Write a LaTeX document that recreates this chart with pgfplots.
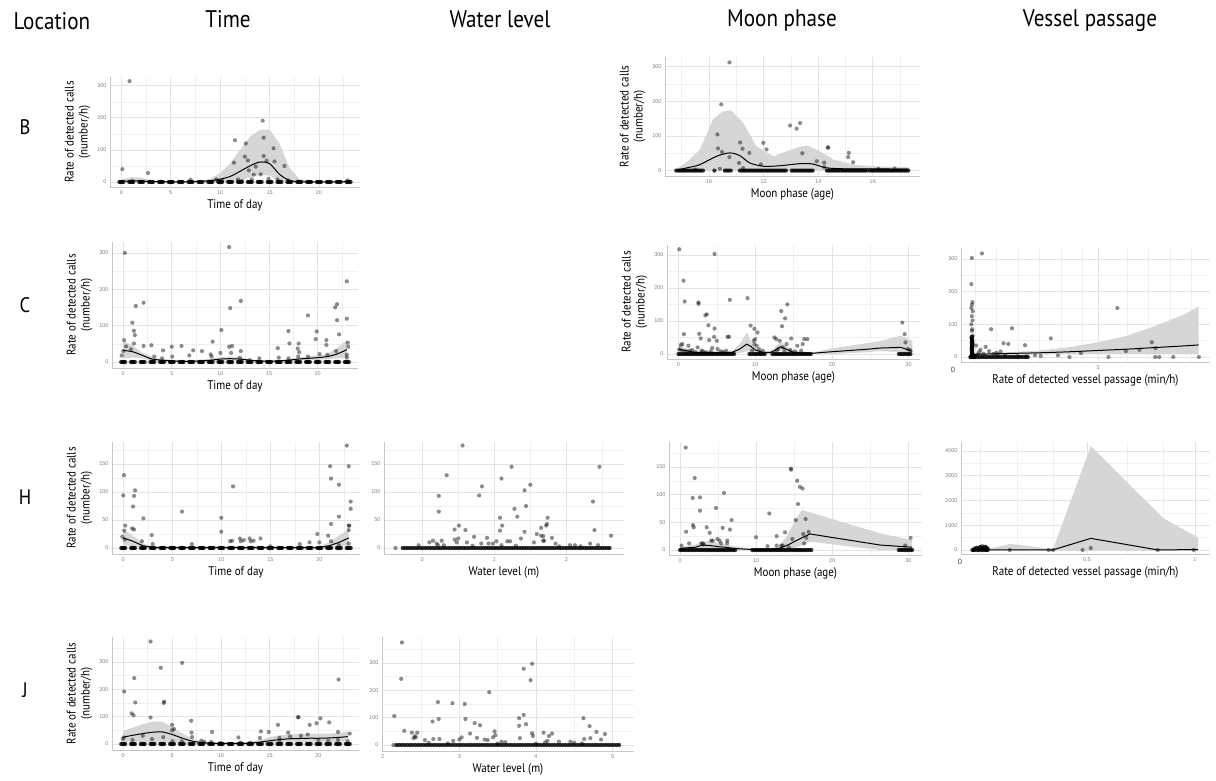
\documentclass[border=0pt]{standalone}
\usepackage{pgfplots}
\pgfplotsset{compat=1.18}
\usepackage{fontspec}
\setmainfont{PT Sans}[FakeStretch=0.88]
\newfontfamily\tickfont{Liberation Sans}
\pgfplotstableread[row sep=\\]{x y\\
-0.2 0\\-0.07 0\\0.07 0\\0.2 0\\
0.8 0\\0.93 0\\1.07 0\\1.2 0\\
1.8 0\\1.93 0\\2.07 0\\2.2 0\\
2.8 0\\2.93 0\\3.07 0\\3.2 0\\
3.8 0\\3.93 0\\4.07 0\\4.2 0\\
4.8 0\\4.93 0\\5.07 0\\5.2 0\\
5.8 0\\5.93 0\\6.07 0\\6.2 0\\
6.8 0\\6.93 0\\7.07 0\\7.2 0\\
7.8 0\\7.93 0\\8.07 0\\8.2 0\\
8.8 0\\8.93 0\\9.07 0\\9.2 0\\
9.8 0\\9.93 0\\10.07 0\\10.2 0\\
10.8 0\\10.93 0\\11.07 0\\11.2 0\\
11.8 0\\11.93 0\\12.07 0\\12.2 0\\
12.8 0\\12.93 0\\13.07 0\\13.2 0\\
13.8 0\\13.93 0\\14.07 0\\14.2 0\\
14.8 0\\14.93 0\\15.07 0\\15.2 0\\
15.8 0\\15.93 0\\16.07 0\\16.2 0\\
16.8 0\\16.93 0\\17.07 0\\17.2 0\\
17.8 0\\17.93 0\\18.07 0\\18.2 0\\
18.8 0\\18.93 0\\19.07 0\\19.2 0\\
19.8 0\\19.93 0\\20.07 0\\20.2 0\\
20.8 0\\20.93 0\\21.07 0\\21.2 0\\
21.8 0\\21.93 0\\22.07 0\\22.2 0\\
22.8 0\\22.93 0\\23.07 0\\23.2 0\\
}\hourzeros
\begin{document}
\begin{tikzpicture}
\pgfplotsset{
 panel/.style={scale only axis, anchor=south west,
   axis x line*=bottom, axis y line*=left,
   axis line style={black!22, line width=0.8pt, -},
   grid=both, major grid style={black!11, line width=0.6pt},
   minor grid style={black!6, line width=0.4pt},
   tick style={draw=none}, major tick length=0pt, minor tick length=0pt,
   ticklabel style={font=\tickfont\fontsize{5.5}{6}\selectfont, text=black!50},
   /pgf/number format/assume math mode=true,
   xlabel style={font=\fontsize{12.5}{14}\selectfont, yshift=2pt},
   ylabel style={font=\fontsize{12.5}{14}\selectfont, align=center},
 },
 ylab/.style={ylabel={Rate of detected calls\\(number/h)}},
 pts/.style={only marks, mark=*, mark size=2.1pt, mark options={draw opacity=0, fill=black, fill opacity=0.45}},
 zpts/.style={only marks, mark=*, mark size=2.1pt, mark options={draw opacity=0, fill=black, fill opacity=0.8}},
 rib/.style={draw=none, fill=black!16},
 fit/.style={black, line width=1pt},
}
\path[use as bounding box] (0pt,0pt) rectangle (1216pt,780pt);
% headers
\node[anchor=west, font=\fontsize{24}{28}\selectfont] at (10pt,759pt) {Location};
\node[font=\fontsize{24}{28}\selectfont] at (228pt,761pt) {Time};
\node[font=\fontsize{24}{28}\selectfont] at (500pt,761pt) {Water level};
\node[font=\fontsize{24}{28}\selectfont] at (782pt,759pt) {Moon phase};
\node[font=\fontsize{24}{28}\selectfont] at (1090pt,759pt) {Vessel passage};
\node[font=\fontsize{21}{24}\selectfont] at (25pt,653pt) {B};
\node[font=\fontsize{21}{24}\selectfont] at (25pt,475pt) {C};
\node[font=\fontsize{21}{24}\selectfont] at (25pt,283pt) {H};
\node[font=\fontsize{21}{24}\selectfont] at (25pt,90pt) {J};
\node[font=\tickfont\fontsize{7.5}{8}\selectfont, text=black!75] at (953pt,410pt) {0};
\node[font=\tickfont\fontsize{7.5}{8}\selectfont, text=black!75] at (960pt,218pt) {0};

% ---------------- B time
\begin{axis}[panel, ylab, at={(110pt,593pt)}, width=250pt, height=110pt,
 xmin=-1.15, xmax=24.15, ymin=-15.6, ymax=327,
 xtick={0,5,10,15,20}, minor xtick={2.5,7.5,12.5,17.5,22.5},
 ytick={0,100,200,300}, minor ytick={50,150,250}, xlabel={Time of day}]
\addplot[rib] coordinates {(0,8)(1,15)(2,14)(3,5)(4,2)(5,1)(6,1)(7,2)(8,3)(9,10)(10,28)(11,58)(12,100)(13,140)(14,162)(15,163)(16,120)(17,45)(18,10)(19,2)(20,1)(21,1)(22,2)(23,3)
 (23,0)(22,0)(21,0)(20,0)(19,0)(18,0)(17,0)(16,2)(15,20)(14,22)(13,14)(12,3)(11,0)(10,0)(9,0)(8,0)(7,0)(6,0)(5,0)(4,0)(3,0)(2,0)(1,0)(0,0)};
\addplot[zpts] table {\hourzeros};
\addplot[pts] coordinates {(0.1,40)(0.83,314)(2.7,28)(7,7)(9.6,8)(10.2,5)(11.5,130)(11.4,60)(11.8,8)(12.6,120)(12.5,79)(12.8,67)(12.9,36)(13.2,8)(13.6,48)(13.4,23)(14.1,24)(14.3,191)(14.4,138)(14.4,81)(14.7,66)(14.9,10)(15.4,105)(15.5,64)(15.8,8)(16.5,50)(16.9,5)(12.2,3)(1.1,3)(22.9,5)};
\addplot[fit, smooth] coordinates {(0,2)(1,3)(2,3)(3,1.5)(4,1)(5,0.5)(6,0.5)(7,1)(8,2)(9,4)(10,9)(11,17)(12,33)(13,50)(14,62)(15,57)(16,24)(17,5)(18,0.5)(19,0)(20,0)(21,0)(22,0.5)(23,1)};
\end{axis}

% ---------------- B moon
\begin{axis}[panel, ylab, at={(665pt,604pt)}, width=255pt, height=119pt,
 xmin=8.39, xmax=17.73, ymin=-15.6, ymax=327.6,
 xtick={10,12,14,16}, minor xtick={9,11,13,15,17},
 ytick={0,100,200,300}, minor ytick={50,150,250}, xlabel={Moon phase (age)}]
\addplot[rib] coordinates {(8.8,4)(9.2,25)(9.66,60)(10.15,148)(10.5,170)(10.8,174)(11.25,138)(11.74,70)(12.36,41)(12.85,56)(13.3,68)(13.6,72)(14.07,56)(14.56,32)(15.3,17)(16.16,12)(17.3,10)
 (17.3,0)(16,0)(15,0)(14,0)(13,0)(12,0)(11,0)(10,0)(8.8,0)};
\addplot[zpts] coordinates {(8.8,0)(8.87,0)(8.94,0)(9.01,0)(9.08,0)(9.15,0)(9.22,0)(9.29,0)(9.36,0)(9.43,0)(9.5,0)(9.57,0)(9.64,0)(9.71,0)(9.78,0)(10.2,0)(10.58,0)(10.65,0)(10.72,0)(10.8,0)
(11.13,0)(11.2,0)(11.27,0)(11.34,0)(11.41,0)(11.48,0)(11.55,0)(11.62,0)(11.69,0)(11.76,0)(11.83,0)(11.9,0)(11.97,0)
(12.05,0)(12.12,0)(12.19,0)(12.26,0)(12.33,0)(12.4,0)(12.47,0)(12.54,0)(12.61,0)(12.68,0)(12.75,0)(12.82,0)
(13.03,0)(13.1,0)(13.17,0)(13.24,0)(13.31,0)(13.38,0)(13.45,0)(13.52,0)(13.59,0)(13.66,0)(13.73,0)(13.8,0)
(14.32,0)(14.39,0)(14.46,0)(14.53,0)(14.6,0)(14.67,0)(14.74,0)(14.81,0)(14.88,0)(14.95,0)(15.02,0)(15.09,0)(15.16,0)(15.23,0)(15.3,0)(15.37,0)(15.44,0)(15.51,0)(15.58,0)(15.65,0)(15.72,0)(15.79,0)
(15.9,0)(15.97,0)(16.04,0)(16.11,0)(16.18,0)(16.25,0)(16.32,0)(16.39,0)(16.46,0)(16.53,0)(16.6,0)(16.67,0)(16.74,0)(16.81,0)(16.88,0)(16.95,0)(17.02,0)(17.09,0)(17.16,0)(17.23,0)(17.3,0)};
\addplot[pts] coordinates {(10.31,104)(10.33,64)(10.4,5)(10.45,191)(10.48,54)(10.75,312)(10.75,39)(11.14,81)(11.23,63)(11.1,22)(11.25,7)(11.48,51)(11.9,18)(11.99,80)(12.11,61)(12.97,130)(13.21,121)(13.34,137)(13.42,50)(13.95,27)(14.22,23)(14.22,10)(14.35,67)(14.37,66)(15.12,51)(15.1,39)(15.28,24)(16.2,5)(16.8,6)(9.5,3)};
\addplot[fit, smooth] coordinates {(8.8,1)(9.2,8)(9.66,17)(10.27,41)(10.76,51)(11.13,43)(11.5,22)(12,12.5)(12.6,14)(13.34,20)(13.8,19)(14.3,8)(15.05,5)(16,5)(17.3,4)};
\end{axis}

% ---------------- C time
\begin{axis}[panel, ylab, at={(112pt,412pt)}, width=246pt, height=126pt,
 xmin=-1.15, xmax=24.15, ymin=-16.5, ymax=330,
 xtick={0,5,10,15,20}, minor xtick={2.5,7.5,12.5,17.5,22.5},
 ytick={0,100,200,300}, minor ytick={50,150,250}, xlabel={Time of day}]
\addplot[rib] coordinates {(0,58)(1,45)(2,25)(3,13)(4,8)(5,6)(6,6)(7,6)(8,6)(9,9)(10,13)(11,15)(12,13)(13,8)(14,5)(15,5)(16,5)(17,8)(18,12)(19,15)(20,18)(21,22)(22,38)(23,60)
 (23,12)(22,10)(21,8)(20,6)(19,5)(18,4)(17,2)(16,1)(15,0)(14,0)(13,1)(12,3)(11,4)(10,3)(9,1)(8,0)(7,0)(6,0)(5,0)(4,1)(3,3)(2,10)(1,12)(0,10)};
\addplot[zpts] table {\hourzeros};
\addplot[pts] coordinates {(0.17,300)(0.1,60)(0.3,43)(0,30)(-0.15,18)(0.94,108)(1.1,86)(1.2,74)(1.3,154)(1.1,51)(0.8,35)(2.1,163)(2.1,44)(2.9,46)(3.2,15)(4.1,32)(4,10)(5,42)(5.05,15)(6,44)(6.8,18)(7.2,32)(8.1,30)(9.2,56)(9,21)(9.1,15)(10.1,88)(10,25)(10.9,316)(11,148)(10.9,42)(11.2,44)(11.1,25)(12.1,168)(12.1,30)(12,12)(13,5)(14,10)(15.9,38)(16,12)(17,85)(17.1,51)(17,10)(18.05,51)(17.95,37)(18.1,27)(18,15)(19,128)(19,15)(19.9,84)(19.8,63)(20.2,22)(20.9,60)(20.9,47)(21,20)(21.8,150)(22,159)(22,115)(22.2,76)(21.9,30)(23,222)(23,119)(23.1,53)(23.15,42)(23,20)(23,12)};
\addplot[fit, smooth] coordinates {(0,32)(1,28)(2,18)(3,8)(4,5)(5,3)(6,2)(7,2)(8,3)(9,5)(10,8)(11,9)(12,8)(13,5)(14,3)(15,2)(16,3)(17,5)(18,8)(19,10)(20,12)(21,15)(22,22)(23,34)};
\end{axis}

% ---------------- C moon
\begin{axis}[panel, ylab, at={(667pt,421pt)}, width=253pt, height=114pt,
 xmin=-1.5, xmax=31.5, ymin=-15.2, ymax=330,
 xtick={0,10,20,30}, minor xtick={5,15,25},
 ytick={0,100,200,300}, minor ytick={50,150,250}, xlabel={Moon phase (age)}]
\addplot[rib] coordinates {(0,25)(2,8)(5,8)(7,10)(8,30)(8.9,65)(9.5,35)(10,20)(11,8)(12,8)(13,30)(13.5,35)(14,25)(15,10)(17.3,4)(20.1,17)(24.4,32)(26.3,39)(29,55)(30.5,40)
 (30.5,0)(29,5)(26.3,9)(24.4,5)(20.1,0)(17.3,0)(15,0)(14,6)(13.3,12)(12.5,3)(12,0)(11,0)(10,3)(9.5,8)(8.9,8)(8,3)(7,0)(5,0)(2,0)(0,5)};
\addplot[zpts] coordinates {(0,0)(0.25,0)(0.5,0)(0.75,0)(1,0)(1.25,0)(1.5,0)(1.75,0)(2,0)(2.25,0)(2.5,0)(2.75,0)(3,0)(3.25,0)(3.5,0)(3.75,0)(4,0)(4.25,0)(4.5,0)(4.75,0)(5,0)(5.25,0)(5.5,0)(5.75,0)(6,0)(6.25,0)(6.5,0)(6.75,0)(7,0)(7.25,0)
(9.25,0)(9.5,0)(9.75,0)(10,0)(10.25,0)(10.5,0)(10.75,0)(11,0)(11.25,0)
(12.25,0)(12.5,0)(12.75,0)(13,0)(13.25,0)(13.5,0)(13.75,0)(14,0)(14.25,0)(14.5,0)(14.75,0)(15,0)(15.25,0)(15.5,0)(15.75,0)(16,0)(16.25,0)(16.5,0)(16.75,0)(17,0)(17.25,0)
(28.75,0)(29,0)(29.25,0)(29.5,0)(29.75,0)(30,0)(30.25,0)};
\addplot[pts] coordinates {(0.1,317)(0.65,222)(0.8,159)(0.7,60)(0.3,27)(0.5,30)(0.1,14)(1.3,25)(2.6,156)(2.62,152)(2.7,61)(2.9,47)(2.5,20)(3.5,117)(3.7,120)(3.9,87)(4,42)(4.7,303)(4.7,77)(4.65,52)(5,40)(4.4,18)(5.1,15)(6.4,52)(6.6,52)(6.7,164)(9.0,169)(9.4,86)(9.9,76)(10.3,65)(9.8,40)(10,45)(9.9,30)(10.2,25)(10.5,15)(11,10)(12.5,50)(12.75,45)(13.2,40)(13.4,130)(13.9,108)(13.5,84)(14.2,150)(14.1,30)(14.7,47)(15.5,25)(16.4,45)(16.8,45)(16.2,30)(13.6,20)(1.5,10)(3.2,8)(5.5,8)(29.2,95)(29.5,60)(29.6,35)(29.9,15)(30.2,12)
(0.5,10)(1,8)(1.8,12)(2.2,6)(3,10)(3.6,5)(4.2,8)(5.8,6)(6.2,10)(9.6,10)(10.6,5)(12.8,10)(13,15)(13.8,8)(14.6,12)(15.2,8)(16,10)};
\addplot[fit] coordinates {(0,15)(1,10)(2,5)(3,5)(4,5)(5,4)(6,4)(7,5)(8,15)(8.9,30)(9.5,22)(10,12)(11,5)(12,5)(12.5,10)(13.3,22)(14,15)(15,5)(16,3)(17.3,2)(20.1,7)(24.4,14)(26.3,18)(29,20)(30.5,8)};
\end{axis}

% ---------------- C vessel
\begin{axis}[panel, at={(961pt,418pt)}, width=249pt, height=114pt,
 xmin=0.22, xmax=8.9, ymin=-15.3, ymax=333.6,
 xtick={5}, minor xtick={0.7,1.45,2.2,2.95,3.7,4.45,6,6.75,7.5,8.25},
 ytick={0,100,200,300}, minor ytick={50,150,250}, xlabel={Rate of detected vessel passage (min/h)}]
\addplot[rib] coordinates {(0.6,12)(2,15)(3,20)(4,30)(5,45)(6,65)(7,95)(8,130)(8.5,155)(8.5,8)(6,8)(4,8)(2,7)(0.6,5)};
\addplot[zpts] coordinates {(0.55,0)(0.56,0)(0.6,0)(0.63,0)(0.64,0)(0.68,0)(0.71,0)(0.79,0)(0.87,0)(0.95,0)(1.03,0)(1.11,0)(1.19,0)(1.27,0)(1.35,0)(1.43,0)(1.51,0)(1.59,0)(1.67,0)(1.75,0)(1.83,0)(1.91,0)(1.99,0)(2.07,0)(2.15,0)(2.23,0)(2.31,0)(2.39,0)(2.47,0)(2.55,0)
(0.6,4)(0.6,8)(0.61,12)(0.6,16)(0.6,20)(0.61,24)(0.6,28)(0.6,32)(0.61,36)(0.6,40)(0.6,44)(0.61,48)(0.6,52)(0.6,56)(0.6,62)};
\addplot[pts] coordinates {(0.6,303)(0.58,223)(0.62,168)(0.6,160)(0.58,150)(0.63,140)(0.6,125)(0.62,112)(0.58,100)(0.61,85)(0.6,80)(0.63,65)(0.58,60)(0.6,55)(0.62,50)(0.59,45)(0.64,40)(0.6,35)(0.62,30)(0.58,25)(0.61,20)(0.6,15)(0.63,10)(0.59,6)(0.62,3)
(0.95,317)(0.75,35)(0.9,22)(1.0,10)(1.08,31)(1.27,85)(1.35,10)(1.5,8)(1.6,17)(1.7,42)(1.87,40)(2.0,88)(1.75,5)(2.2,2)(2.45,36)(2.5,2)(2.8,5)(3.0,3)(3.35,57)(3.6,5)(4.0,0)(4.4,12)(5.36,0)(5.67,150)(5.97,18)(6.44,22)(6.87,45)(7.0,27)(6.99,0)(7.13,0)(7.62,0)(8.51,0)(0.8,8)(0.85,15)(1.2,18)(1.45,13)};
\addplot[fit, smooth] coordinates {(0.6,8)(2,11)(3,13)(4,16)(5,20)(6,24)(7,29)(8,34)(8.5,37)};
\end{axis}

% ---------------- H time
\begin{axis}[panel, ylab, at={(112pt,226pt)}, width=248pt, height=112pt,
 xmin=-1.15, xmax=24.15, ymin=-10.7, ymax=189.3,
 xtick={0,5,10,15,20}, minor xtick={2.5,7.5,12.5,17.5,22.5},
 ytick={0,50,100,150}, minor ytick={25,75,125,175}, xlabel={Time of day}]
\addplot[rib] coordinates {(0,32)(1,22)(2,8)(3,3)(20,3)(21,10)(22,22)(23,33)(23,5)(22,2)(21,0)(20,0)(3,0)(2,0)(1,3)(0,5)};
\addplot[zpts] table {\hourzeros};
\addplot[pts] coordinates {(0.07,130)(0,94)(0.2,40)(0.1,31)(-0.1,20)(0.15,15)(1,74)(1.2,103)(1.1,93)(0.9,35)(1.1,33)(2.05,53)(1.9,12)(2.9,23)(3,7)(6,65)(7,7)(10,54)(10,29)(10.9,12)(11.1,13)(11.2,110)(11.9,17)(12,12)(12.3,14)(12.9,17)(13,12)(13.3,13)(14,17)(15,3)(18,7)(19,10)(19.8,25)(20,10)(20.9,22)(21.1,146)(21.2,124)(21.2,43)(21.2,12)(22,113)(22,56)(22,5)(22.8,183)(23,146)(23.2,83)(23.2,70)(23,40)(23.05,40)(23,32)(23,8)};
\addplot[fit] coordinates {(0,18)(1,12)(2,4)(3,1)(4,0.5)(8,0.5)(12,0.5)(16,0.5)(19,0.5)(20,1)(21,4)(22,10)(23,18)};
\end{axis}

% ---------------- H water
\begin{axis}[panel, at={(384pt,226pt)}, width=240pt, height=112pt,
 xmin=-0.53, xmax=2.80, ymin=-10.7, ymax=189.3,
 xtick={0,1,2}, minor xtick={0.5,1.5,2.5},
 ytick={0,50,100,150}, minor ytick={25,75,125,175}, xlabel={Water level (m)}]
\addplot[zpts] coordinates {(-0.27,0)(-0.235,0)(-0.2,0)(-0.165,0)(-0.13,0)(-0.095,0)(-0.06,0)(-0.025,0)(0.01,0)(0.045,0)(0.08,0)(0.115,0)(0.15,0)(0.185,0)(0.22,0)(0.255,0)(0.29,0)(0.325,0)(0.36,0)(0.395,0)(0.43,0)(0.465,0)(0.5,0)(0.535,0)(0.57,0)(0.605,0)(0.64,0)(0.675,0)(0.71,0)(0.745,0)(0.78,0)(0.815,0)(0.85,0)(0.885,0)(0.92,0)(0.955,0)(0.99,0)(1.025,0)(1.06,0)(1.095,0)(1.13,0)(1.165,0)(1.2,0)(1.235,0)(1.27,0)(1.305,0)(1.34,0)(1.375,0)(1.41,0)(1.445,0)(1.48,0)(1.515,0)(1.55,0)(1.585,0)(1.62,0)(1.655,0)(1.69,0)(1.725,0)(1.76,0)(1.795,0)(1.83,0)(1.865,0)(1.9,0)(1.935,0)(1.97,0)(2.005,0)(2.04,0)(2.075,0)(2.11,0)(2.145,0)(2.18,0)(2.215,0)(2.25,0)(2.285,0)(2.32,0)(2.355,0)(2.39,0)(2.425,0)(2.46,0)(2.495,0)(2.53,0)(2.565,0)(2.6,0)};
\addplot[pts] coordinates {(-0.37,0)(-0.05,5)(0.1,10)(0.15,13)(0.2,8)(0.22,5)(0.23,93)(0.23,65)(0.27,13)(0.34,130)(0.45,33)(0.45,15)(0.51,40)(0.5,17)(0.48,10)(0.56,183)(0.6,32)(0.62,10)(0.72,20)(0.79,94)(0.83,110)(0.82,8)(0.9,18)(0.92,8)(0.98,8)(1.03,12)(1.08,54)(1.08,31)(1.1,124)(1.11,40)(1.1,5)(1.18,12)(1.22,12)(1.24,145)(1.28,70)(1.32,56)(1.37,17)(1.42,29)(1.42,103)(1.44,75)(1.5,113)(1.55,10)(1.59,25)(1.65,22)(1.68,21)(1.68,13)(1.69,13)(1.65,36)(1.72,40)(1.73,43)(1.74,54)(1.8,18)(1.85,8)(2.05,5)(2.12,5)(2.33,8)(2.37,83)(2.39,32)(2.46,145)(2.44,5)(2.62,22)(0.3,5)(0.7,4)(1.3,4)(1.9,3)(2.2,3)};
\end{axis}

% ---------------- H moon
\begin{axis}[panel, at={(669pt,225pt)}, width=253pt, height=113pt,
 xmin=-1.45, xmax=31.8, ymin=-9, ymax=195,
 xtick={0,10,20,30}, minor xtick={5,15,25},
 ytick={0,50,100,150}, minor ytick={25,75,125,175}, xlabel={Moon phase (age)}]
\addplot[rib] coordinates {(0,5)(2,10)(3,15)(4,17)(5,13)(6,10)(7,7)(9.5,3)(12,3)(13,6)(14,25)(15,50)(16,72)(17.07,68)(26.3,30)(30.5,18)
 (30.5,0)(26.3,0)(17.07,15)(16,8)(15,4)(14,0)(13,0)(9.5,0)(7,0)(5,2)(3,3)(2,1)(0,0)};
\addplot[zpts] coordinates {(0,0)(0.25,0)(0.5,0)(0.75,0)(1,0)(1.25,0)(1.5,0)(1.75,0)(2,0)(2.25,0)(2.5,0)(2.75,0)(3,0)(3.25,0)(3.5,0)(3.75,0)(4,0)(4.25,0)(4.5,0)(4.75,0)(5,0)(5.25,0)(5.5,0)(5.75,0)(6,0)(6.25,0)(6.5,0)(6.75,0)(7,0)(7.25,0)
(9.5,0)(9.75,0)(10,0)(10.25,0)(10.5,0)(10.75,0)(11,0)(11.25,0)(11.5,0)(11.75,0)(12,0)(12.25,0)(12.5,0)(12.75,0)(13,0)(13.25,0)(13.5,0)(13.75,0)(14,0)(14.25,0)(14.5,0)(14.75,0)(15,0)(15.25,0)(15.5,0)(15.75,0)(16,0)(16.25,0)(16.5,0)(16.75,0)(17,0)(17.25,0)
(28.75,0)(29,0)(29.25,0)(29.5,0)(29.75,0)(30,0)(30.25,0)(30.5,0)};
\addplot[pts] coordinates {(0.74,185)(0.8,33)(0.2,8)(1.2,12)(1.66,94)(1.93,130)(1.7,45)(1.8,41)(2.63,95)(2.63,71)(2.8,12)(3,12)(3.1,10)(3.5,41)(3.9,31)(4.1,17)(4.3,17)(4.73,76)(4.9,20)(5.2,17)(5.4,12)(5.6,40)(5.78,103)(6.2,17)(6.2,12)(6.56,37)(6.78,54)(9.98,23)(11.73,66)(11.5,7)(12.7,25)(12.7,8)(13.3,8)(13.5,8)(13.8,32)(14.57,147)(14.6,145)(14.3,5)(14.75,20)(15.2,54)(15.4,125)(15.5,83)(15.76,114)(16.1,111)(16.2,29)(16.3,12)(16.5,56)(16.9,33)(16.6,22)(30.3,22)(29.6,8)};
\addplot[fit] coordinates {(0,3)(2,5)(3,9)(4,8)(5,6)(6,5)(7,3)(8,2)(9.5,1)(11,0)(12,1)(13,3)(14,8)(15,15)(16,22)(17.07,29)(26.3,9)(30.5,5)};
\end{axis}

% ---------------- H vessel
\begin{axis}[panel, at={(961pt,226pt)}, width=249pt, height=112pt,
 xmin=-0.083, xmax=1.07, ymin=-162, ymax=4364,
 xtick={0.5,1}, xticklabels={0.5,1}, minor xtick={0.008,0.177,0.346,0.685,0.854},
 ytick={0,1000,2000,3000,4000}, yticklabels={0,1000,2000,3000,4000}, minor ytick={500,1500,2500,3500},
 xlabel={Rate of detected vessel passage (min/h)}]
\addplot[rib] coordinates {(-0.03,20)(0.05,60)(0.143,240)(0.2,200)(0.343,30)(0.518,4200)(0.854,1280)(1.015,500)(1.015,-40)(0.854,-40)(0.518,-40)(0.343,-20)(-0.03,-20)};
\addplot[zpts] coordinates {(-0.03,0)(-0.025,0)(-0.02,0)(-0.01,0)(0,0)(0.01,0)(0.02,0)(0.03,0)(0.035,0)(0.04,0)(-0.02,60)(-0.01,90)(0,40)(0.005,120)(0.012,70)(0.02,110)(0.025,50)(0.03,130)(0.035,80)(0.04,60)};
\addplot[pts] coordinates {(0.015,160)(-0.005,30)(0.143,0)(0.323,0)(0.343,0)(0.48,0)(0.518,80)(0.828,0)(0.995,0)};
\addplot[fit] coordinates {(-0.03,0)(0.143,0)(0.343,5)(0.518,470)(0.83,0)(1.015,20)};
\end{axis}

% ---------------- J time
\begin{axis}[panel, ylab, at={(112pt,30pt)}, width=247pt, height=113pt,
 xmin=-1.15, xmax=24.15, ymin=-22, ymax=391.5,
 xtick={0,5,10,15,20}, minor xtick={2.5,7.5,12.5,17.5,22.5},
 ytick={0,100,200,300}, minor ytick={50,150,250,350}, xlabel={Time of day}]
\addplot[rib] coordinates {(0,48)(1,60)(2,72)(3,82)(4,82)(5,62)(6,40)(7,20)(8,10)(9,6)(10,5)(11,5)(12,5)(13,8)(14,15)(15,25)(16,32)(17,36)(18,38)(19,38)(20,38)(21,38)(22,40)(23,45)
 (23,10)(22,8)(21,6)(20,6)(19,6)(18,8)(17,8)(16,5)(15,2)(14,0)(13,0)(12,0)(11,0)(10,0)(9,0)(8,0)(7,0)(6,3)(5,5)(4,5)(3,5)(2,8)(1,8)(0,5)};
\addplot[zpts] table {\hourzeros};
\addplot[pts] coordinates {(0.1,192)(0.05,24)(-0.05,18)(0.86,112)(1.06,105)(1.13,241)(1.23,152)(0.95,15)(2,30)(2.8,375)(2.8,97)(2.95,18)(3.85,279)(4.2,155)(4.15,150)(4.1,25)(5,70)(5,50)(5.2,55)(5.05,10)(6.04,297)(6,10)(6.96,85)(7,42)(7.05,25)(8,12)(8.3,8)(9.1,44)(9,8)(11.8,24)(14.1,46)(14,22)(14.9,44)(15.85,70)(16,22)(16,8)(16.9,42)(17.1,27)(17.9,98)(17.95,98)(18.2,30)(19.1,70)(18.9,35)(19.8,76)(20.2,94)(21.1,79)(22.06,236)(22,44)(23.2,38)(23,10)(10,4)(13,5)(12,6)(20,15)(21,12)(22,15)};
\addplot[fit, smooth] coordinates {(0,25)(1,32)(2,38)(3,43)(4,44)(5,35)(6,22)(7,11)(8,5)(9,3)(10,2)(11,2)(12,2)(13,3)(14,7)(15,12)(16,16)(17,19)(18,20)(19,21)(20,21)(21,22)(22,24)(23,27)};
\end{axis}

% ---------------- J water
\begin{axis}[panel, at={(382pt,29pt)}, width=252pt, height=114pt,
 xmin=1.99, xmax=5.28, ymin=-22, ymax=395,
 xtick={2,3,4,5}, minor xtick={2.5,3.5,4.5},
 ytick={0,100,200,300}, minor ytick={50,150,250,350}, xlabel={Water level (m)}]
\addplot[zpts] coordinates {(2.18,0)(2.215,0)(2.25,0)(2.285,0)(2.32,0)(2.355,0)(2.39,0)(2.425,0)(2.46,0)(2.495,0)(2.53,0)(2.565,0)(2.6,0)(2.635,0)(2.67,0)(2.705,0)(2.74,0)(2.775,0)(2.81,0)(2.845,0)(2.88,0)(2.915,0)(2.95,0)(2.985,0)(3.02,0)(3.055,0)(3.09,0)(3.125,0)(3.16,0)(3.195,0)(3.23,0)(3.265,0)(3.3,0)(3.335,0)(3.37,0)(3.405,0)(3.44,0)(3.475,0)(3.51,0)(3.545,0)(3.58,0)(3.615,0)(3.65,0)(3.685,0)(3.72,0)(3.755,0)(3.79,0)(3.825,0)(3.86,0)(3.895,0)(3.93,0)(3.965,0)(4.0,0)(4.035,0)(4.07,0)(4.105,0)(4.14,0)(4.175,0)(4.21,0)(4.245,0)(4.28,0)(4.315,0)(4.35,0)(4.385,0)(4.42,0)(4.455,0)(4.49,0)(4.525,0)(4.56,0)(4.595,0)(4.63,0)(4.665,0)(4.7,0)(4.735,0)(4.77,0)(4.805,0)(4.84,0)(4.875,0)(4.91,0)(4.945,0)(4.98,0)(5.015,0)(5.05,0)(5.085,0)};
\addplot[pts] coordinates {(2.14,0)(2.15,106)(2.25,375)(2.24,242)(2.28,52)(2.4,25)(2.42,32)(2.38,45)(2.45,45)(2.43,28)(2.55,18)(2.65,86)(2.66,22)(2.72,157)(2.73,95)(2.74,22)(2.91,153)(2.92,15)(3.03,28)(3.0,20)(3.07,150)(3.08,95)(3.14,42)(3.2,80)(3.23,26)(3.27,72)(3.33,20)(3.37,18)(3.39,193)(3.44,28)(3.46,50)(3.47,36)(3.6,10)(3.55,12)(3.78,98)(3.78,70)(3.79,25)(3.84,279)(3.84,110)(3.87,76)(3.93,237)(3.95,297)(3.95,43)(3.96,33)(4.1,45)(4.12,10)(4.15,15)(4.17,33)(4.21,42)(4.3,12)(4.45,12)(4.5,8)(4.62,98)(4.63,22)(4.7,69)(4.71,25)(4.79,48)(4.85,20)(4.9,40)(2.6,8)(2.85,6)(3.5,5)(4.0,5)(4.6,6)};
\end{axis}
\end{tikzpicture}
\end{document}
